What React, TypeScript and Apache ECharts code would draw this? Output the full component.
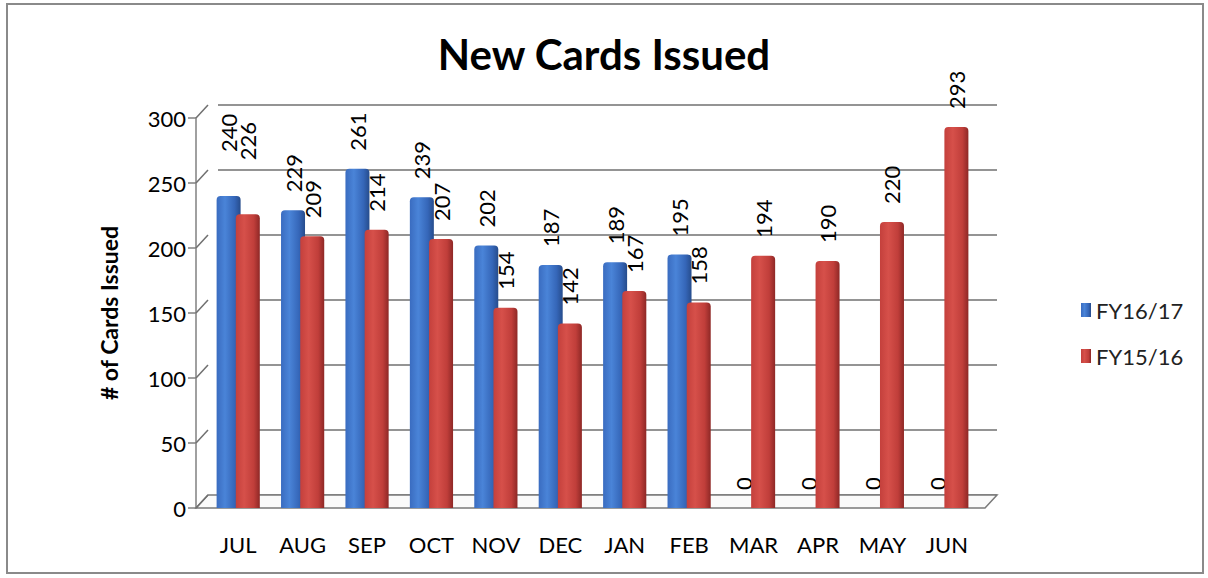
import React, { useEffect, useRef } from "react";
import * as echarts from "echarts";

const months = ["JUL", "AUG", "SEP", "OCT", "NOV", "DEC", "JAN", "FEB", "MAR", "APR", "MAY", "JUN"];
const fy1617 = [240, 229, 261, 239, 202, 187, 189, 195, 0, 0, 0, 0];
const fy1516 = [226, 209, 214, 207, 154, 142, 167, 158, 194, 190, 220, 293];
const yTicks = [0, 50, 100, 150, 200, 250, 300];
const seriesNames = ["FY16/17", "FY15/16"];

const FONT = "Lato, 'Open Sans', sans-serif";
const DX = 12;
const DY = 13;

export default function App() {
  const ref = useRef<HTMLDivElement>(null);
  useEffect(() => {
    if (!ref.current) return;
    const chart = echarts.init(ref.current, undefined, { renderer: "svg" });
    const labelBase = {
      show: true,
      position: "top",
      rotate: 90,
      align: "left",
      verticalAlign: "middle",
      distance: 18,
      fontSize: 22,
      color: "#000",
      fontFamily: FONT,
    };
    const mkData = (arr: number[], firstDist: number) =>
      arr.map((v, i) => (i === 0 ? { value: v, label: { distance: firstDist } } : v));
    const option: any = {
      animation: false,
      backgroundColor: "#fff",
      title: {
        text: "New Cards Issued",
        left: "center",
        top: 28,
        textStyle: { fontSize: 42, fontWeight: "bold", color: "#000", fontFamily: FONT },
      },
      legend: {
        orient: "vertical",
        left: 1076,
        top: 294,
        itemWidth: 10,
        itemHeight: 14,
        itemGap: 24,
        icon: "rect",
        data: seriesNames,
        textStyle: { fontSize: 22, color: "#222", fontFamily: FONT },
      },
      grid: [
        { left: 206, right: 229, top: 118, bottom: 70 },
        { left: 206 + DX, right: 229 - DX - 6, top: 118 - DY, bottom: 70 + DY },
      ],
      xAxis: [
        {
          type: "category",
          data: months,
          gridIndex: 0,
          axisLine: { show: false },
          axisTick: { show: false },
          axisLabel: { fontSize: 22, color: "#000", margin: 25, fontFamily: FONT },
        },
        { type: "category", data: months, gridIndex: 1, show: false },
      ],
      yAxis: [
        {
          type: "value",
          gridIndex: 0,
          min: 0,
          max: 300,
          interval: 50,
          offset: 10,
          name: "# of Cards Issued",
          nameLocation: "middle",
          nameGap: 76,
          nameTextStyle: { fontSize: 23, fontWeight: "bold", color: "#000", fontFamily: FONT },
          axisLine: { show: true, lineStyle: { color: "#808080", width: 1.5 } },
          axisTick: { show: true, length: 8, lineStyle: { color: "#808080", width: 1.5 } },
          axisLabel: { fontSize: 22, color: "#000", margin: 10, fontFamily: FONT },
          splitLine: { show: false },
        },
        {
          type: "value",
          gridIndex: 1,
          min: 0,
          max: 300,
          interval: 50,
          axisLine: { show: false },
          axisTick: { show: false },
          axisLabel: { show: false },
          splitLine: { show: true, lineStyle: { color: "#707070", width: 1.5 } },
        },
      ],
      series: [
        {
          name: seriesNames[0],
          type: "bar",
          xAxisIndex: 0,
          yAxisIndex: 0,
          barWidth: 24,
          barGap: "-20%",
          z: 3,
          data: mkData(fy1617, 44),
          itemStyle: {
            borderRadius: [4, 4, 0, 0],
            color: {
              type: "linear", x: 0, y: 0, x2: 1, y2: 0,
              colorStops: [
                { offset: 0, color: "#3a6cc0" },
                { offset: 0.35, color: "#4a84d8" },
                { offset: 0.75, color: "#3566b8" },
                { offset: 1, color: "#264c8c" },
              ],
            },
          },
          label: labelBase,
        },
        {
          name: seriesNames[1],
          type: "bar",
          xAxisIndex: 0,
          yAxisIndex: 0,
          barWidth: 24,
          barGap: "-20%",
          z: 4,
          data: mkData(fy1516, 54),
          itemStyle: {
            borderRadius: [4, 4, 0, 0],
            color: {
              type: "linear", x: 0, y: 0, x2: 1, y2: 0,
              colorStops: [
                { offset: 0, color: "#c4403c" },
                { offset: 0.35, color: "#d6504a" },
                { offset: 0.75, color: "#c03e3a" },
                { offset: 1, color: "#8e2826" },
              ],
            },
          },
          label: labelBase,
        },
      ],
    };
    chart.setOption(option);

    // 3D decorations derived from the axes
    const yPix = (v: number) => chart.convertToPixel({ yAxisIndex: 0 } as any, v) as number;
    const xc0 = chart.convertToPixel({ xAxisIndex: 0 } as any, months[0]) as number;
    const xc1 = chart.convertToPixel({ xAxisIndex: 0 } as any, months[1]) as number;
    const band = xc1 - xc0;
    const axisX = xc0 - band / 2 - 10;
    const rightX = xc0 + band * (months.length - 0.5) + 6;
    const y0 = yPix(0);
    const elements: any[] = [
      {
        type: "rect",
        shape: { x: 7, y: 4, width: 1196, height: 569 },
        style: { fill: "none", stroke: "#8a8a8a", lineWidth: 2 },
        z: 0,
      },
      {
        type: "polygon",
        shape: {
          points: [
            [axisX, y0],
            [rightX, y0],
            [rightX + DX, y0 - DY],
            [axisX + DX, y0 - DY],
          ],
        },
        style: { fill: "#fafafa", stroke: "#7a7a7a", lineWidth: 1.5 },
        z: 1,
      },
    ];
    yTicks.forEach((v) => {
      const y = yPix(v);
      elements.push({
        type: "line",
        shape: { x1: axisX, y1: y, x2: axisX + DX, y2: y - DY },
        style: { stroke: "#707070", lineWidth: 1.5 },
        z: 1,
      });
    });
    chart.setOption({ graphic: { elements } });

    return () => chart.dispose();
  }, []);
  return (
    <div
      ref={ref}
      style={{ position: "fixed", left: 0, top: 0, width: 1208, height: 578, background: "#fff" }}
    />
  );
}
